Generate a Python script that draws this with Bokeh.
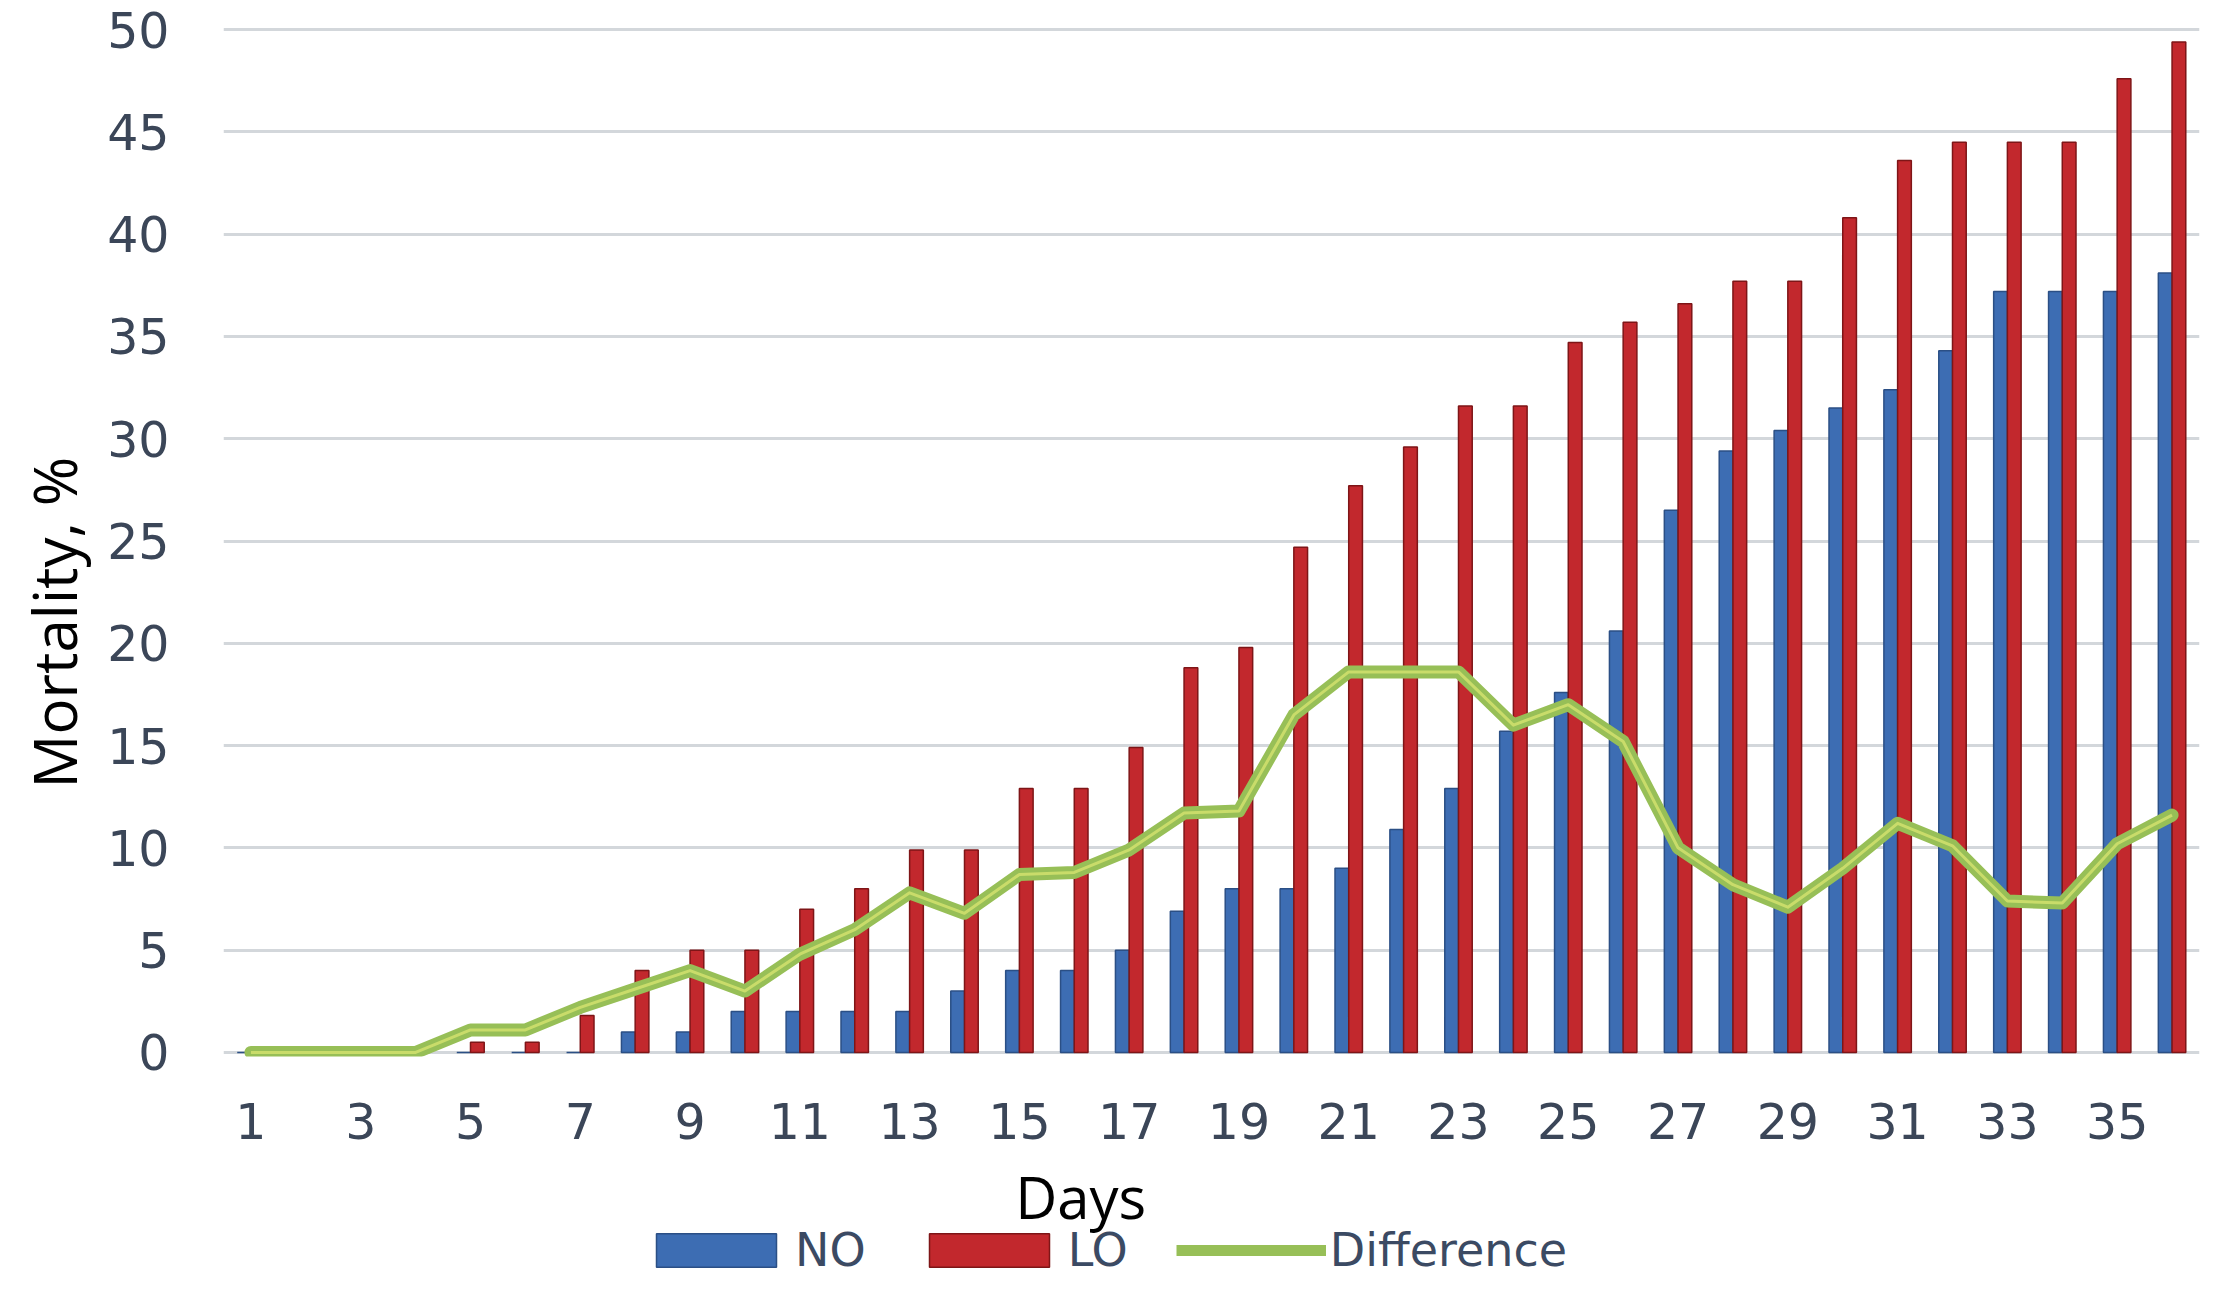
from bokeh.plotting import figure
from bokeh.layouts import column
from bokeh.models import (Range1d, FixedTicker, Legend, LegendItem, Title,
                          Label, ColumnDataSource)
from bokeh.transform import dodge
from bokeh.embed import file_html
from bokeh.resources import INLINE

# ---------------- data ----------------
days = list(range(1, 37))
no_vals = [0, 0, 0, 0, 0, 0, 0, 1, 1, 2, 2, 2, 2, 3, 4, 4, 5, 6.9, 8, 8,
           9, 10.9, 12.9, 15.7, 17.6, 20.6, 26.5, 29.4, 30.4, 31.5, 32.4,
           34.3, 37.2, 37.2, 37.2, 38.1]
lo_vals = [0, 0, 0, 0, 0.5, 0.5, 1.8, 4, 5, 5, 7, 8, 9.9, 9.9, 12.9, 12.9,
           14.9, 18.8, 19.8, 24.7, 27.7, 29.6, 31.6, 31.6, 34.7, 35.7, 36.6,
           37.7, 37.7, 40.8, 43.6, 44.5, 44.5, 44.5, 47.6, 49.4]
diff_vals = [0, 0, 0, 0, 1.1, 1.1, 2.2, 3.1, 4.0, 3.0, 4.8, 6.0, 7.8, 6.8,
             8.7, 8.8, 9.9, 11.7, 11.8, 16.5, 18.6, 18.6, 18.6, 16.0, 17.0,
             15.2, 10.0, 8.2, 7.1, 9.0, 11.2, 10.1, 7.4, 7.3, 10.2, 11.6]
x_ticks = list(range(1, 36, 2))
y_ticks = list(range(0, 51, 5))
series_names = ["NO", "LO", "Difference"]
x_title = "Days"
y_title = "Mortality, %"

src = ColumnDataSource(dict(day=days, no=no_vals, lo=lo_vals, diff=diff_vals))

TICK_FONT = "DejaVu Sans"
TITLE_FONT = "Open Sans"
TICK_COLOR = "#3B4658"
NO_FILL, NO_LINE = "#3D6DB3", "#2B4F85"
LO_FILL, LO_LINE = "#C2282D", "#7E1517"
DIFF_COLOR, DIFF_HI = "#97BF57", "#D6E46F"

W = 2212
H_MAIN = 1155
FRAME_L, FRAME_R = 221, 2199   # where the chart frame ends up on the canvas
p = figure(width=W, height=H_MAIN, output_backend="svg", toolbar_location=None,
           x_range=Range1d(0.5, 36.5), y_range=Range1d(-0.2, 50.3),
           min_border_left=0, min_border_right=W - FRAME_R, min_border_top=23,
           min_border_bottom=99, background_fill_color="white",
           border_fill_color="white")
p.outline_line_color = None

# axes
p.xaxis.ticker = FixedTicker(ticks=x_ticks)
p.yaxis.ticker = FixedTicker(ticks=y_ticks)
for ax in (p.xaxis, p.yaxis):
    ax.axis_line_color = None
    ax.major_tick_line_color = None
    ax.minor_tick_line_color = None
    ax.major_label_text_font = TICK_FONT
    ax.major_label_text_font_size = "49px"
    ax.major_label_text_color = TICK_COLOR
p.xaxis.major_label_standoff = 40
p.yaxis.major_label_standoff = 48

p.xgrid.visible = False
p.ygrid.grid_line_color = "#D3D7DB"
p.ygrid.grid_line_width = 3

# bars
p.vbar(x=dodge("day", -0.125, range=p.x_range), top="no", bottom=0,
       width=0.25, source=src, fill_color=NO_FILL, line_color=NO_LINE,
       line_width=1.5)
p.vbar(x=dodge("day", 0.125, range=p.x_range), top="lo", bottom=0,
       width=0.25, source=src, fill_color=LO_FILL, line_color=LO_LINE,
       line_width=1.5)

# difference line
p.line("day", "diff", source=src, line_color=DIFF_COLOR, line_width=13,
       line_join="round", line_cap="round")
p.line("day", "diff", source=src, line_color=DIFF_HI, line_width=3,
       line_alpha=0.8, line_join="round")

# y-axis title, offset toward the bottom like the reference
y_t = Title(text=y_title, align="left", offset=268, standoff=20,
            text_font=TITLE_FONT, text_font_size="60px", text_color="black",
            text_font_style="normal")
p.add_layout(y_t, "left")

# ---- strip below the chart: x title and legend ----
# (the column aligns this strip's frame with the chart frame above)
SH = 1277 - H_MAIN
strip = figure(width=W, height=SH, output_backend="svg", toolbar_location=None,
               x_range=Range1d(FRAME_L, FRAME_R), y_range=Range1d(0, SH),
               x_axis_location=None, y_axis_location=None,
               min_border=0, outline_line_color=None,
               background_fill_color="white", border_fill_color="white")
strip.grid.visible = False

strip.add_layout(Label(x=1079, y=SH - 41, text=x_title, text_font=TITLE_FONT,
                       text_font_size="58px", text_color="black",
                       text_align="center", text_baseline="middle"))

# legend-only renderers: one NaN row each, so nothing is drawn in the strip
nan = float("nan")
key_src = ColumnDataSource(dict(x=[nan], top=[nan]))
g_no = strip.vbar(x="x", top="top", width=1, source=key_src,
                  fill_color=NO_FILL, line_color=NO_LINE, line_width=1.5)
g_lo = strip.vbar(x="x", top="top", width=1, source=key_src,
                  fill_color=LO_FILL, line_color=LO_LINE, line_width=1.5)
g_df = strip.line(x="x", y="top", source=key_src, line_color=DIFF_COLOR,
                  line_width=11)

legend = Legend(items=[LegendItem(label=series_names[0], renderers=[g_no]),
                       LegendItem(label=series_names[1], renderers=[g_lo]),
                       LegendItem(label=series_names[2], renderers=[g_df])],
                location=(639 - FRAME_L, 0), orientation="horizontal",
                glyph_width=150, glyph_height=42, label_standoff=4,
                spacing=48, padding=0, margin=0, border_line_color=None,
                background_fill_alpha=0, label_text_font=TICK_FONT,
                label_text_font_size="46px", label_text_color="#3B4A63")
strip.add_layout(legend)

layout = column(p, strip, spacing=0)
open("out.html", "w").write(file_html(layout, INLINE))
